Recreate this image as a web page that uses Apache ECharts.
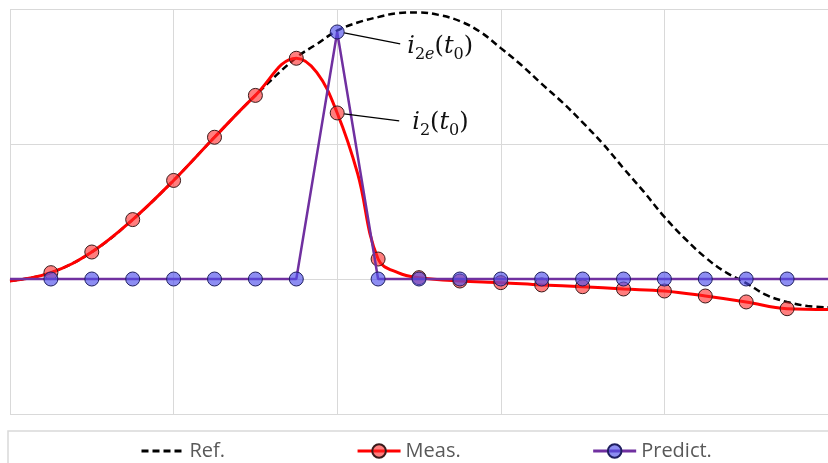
<!DOCTYPE html>
<html>
<head>
<meta charset="utf-8">
<script src="https://cdn.jsdelivr.net/npm/echarts@6/dist/echarts.min.js"></script>
<style>
html,body{margin:0;padding:0;background:#fff;}
#main{width:828px;height:463px;}
</style>
</head>
<body>
<div id="main"></div>
<script>
// x positions in sample units (4 samples per grid division); markers sit on whole samples 1..19
const refIdx   = [0,1,2,3,4,5,6,7,7.5,8,8.5,9,9.5,10,10.5,11,11.5,12,12.5,13,13.5,14,14.5,15,15.5,16,16.5,17,17.5,18,18.5,19,19.5,20];
const refVals  = [-0.015,0.047,0.20,0.44,0.73,1.05,1.36,1.64,1.74,1.84,1.90,1.94,1.97,1.975,1.955,1.91,1.83,1.71,1.585,1.445,1.31,1.16,1.0,0.82,0.645,0.46,0.30,0.16,0.05,-0.03,-0.12,-0.17,-0.20,-0.21];
const measIdx  = [0,1,2,3,4,5,6,7,7.5,8,8.5,9,9.5,10,11,12,13,14,15,16,17,18,19,20];
const measVals = [-0.015,0.047,0.20,0.44,0.73,1.05,1.36,1.635,1.53,1.23,0.78,0.148,0.045,0.01,-0.015,-0.027,-0.044,-0.057,-0.074,-0.089,-0.126,-0.17,-0.22,-0.225];
const predIdx  = [0,1,2,3,4,5,6,7,8,9,10,11,12,13,14,15,16,17,18,19,20];
const predVals = [0,0,0,0,0,0,0,0,1.83,0,0,0,0,0,0,0,0,0,0,0,0];
const seriesNames = ['Ref.','Meas.','Predict.'];
const peakSample = 8;

const chart = echarts.init(document.getElementById('main'), null, {renderer:'canvas'});

function pts(idx, vals) {
  return idx.map((k, i) => {
    const item = { value: [k, vals[i]] };
    if (!(Number.isInteger(k) && k > 0 && k < 20)) item.symbol = 'none';
    return item;
  });
}

const option = {
  animation: false,
  backgroundColor: '#fff',
  grid: { left: 10, top: 9, width: 828, bottom: 49 },
  xAxis: {
    type: 'value', min: 0, max: 20, interval: 4,
    axisLine: {show:false}, axisTick:{show:false}, axisLabel:{show:false},
    splitLine: { show: true, lineStyle: { color: '#d9d9d9', width: 1 } }
  },
  yAxis: {
    type: 'value', min: -1, max: 2, interval: 1,
    axisLine: {show:false}, axisTick:{show:false}, axisLabel:{show:false},
    splitLine: { show: true, lineStyle: { color: '#d9d9d9', width: 1 } }
  },
  legend: {
    left: 135, top: 436,
    itemWidth: 43, itemHeight: 17, itemGap: 131,
    lineStyle: { width: 3 },
    textStyle: { fontFamily: 'Open Sans', fontSize: 20, color: '#595959' },
    data: [
      { name: seriesNames[0], itemStyle: { color: 'rgba(0,0,0,0)', borderColor: 'rgba(0,0,0,0)', borderWidth: 0 } },
      seriesNames[1],
      seriesNames[2]
    ]
  },
  series: [
    {
      name: seriesNames[0], type: 'line', smooth: 0.4, symbol: 'none',
      data: refIdx.map((k, i) => [k, refVals[i]]),
      lineStyle: { color: '#000', width: 2.5, type: [7, 4] },
      itemStyle: { color: '#000' },
      z: 2
    },
    {
      name: seriesNames[1], type: 'line', smooth: 0.4, symbol: 'circle', symbolSize: 14,
      data: pts(measIdx, measVals),
      lineStyle: { color: '#ff0000', width: 3 },
      itemStyle: { color: 'rgba(255,40,40,0.6)', borderColor: '#3a1a1a', borderWidth: 1 },
      z: 3
    },
    {
      name: seriesNames[2], type: 'line', smooth: false, symbol: 'circle', symbolSize: 14,
      data: pts(predIdx, predVals),
      lineStyle: { color: '#7030a0', width: 2.5 },
      itemStyle: { color: 'rgba(80,80,235,0.65)', borderColor: '#1f1f60', borderWidth: 1 },
      z: 4
    }
  ]
};
chart.setOption(option);

const p1 = chart.convertToPixel({gridIndex:0}, [peakSample, predVals[predIdx.indexOf(peakSample)]]);
const p2 = chart.convertToPixel({gridIndex:0}, [peakSample, measVals[measIdx.indexOf(peakSample)]]);

const rich = {
  it:  { fontFamily: 'DejaVu Serif', fontStyle: 'italic', fontSize: 24, lineHeight: 32, fill: '#111' },
  p:   { fontFamily: 'DejaVu Serif', fontSize: 24, lineHeight: 32, fill: '#111' },
  sub: { fontFamily: 'DejaVu Serif', fontSize: 16, lineHeight: 16, verticalAlign: 'bottom', fill: '#111' },
  subit: { fontFamily: 'DejaVu Serif', fontStyle: 'italic', fontSize: 16, lineHeight: 16, verticalAlign: 'bottom', fill: '#111' }
};

chart.setOption({
  graphic: [
    { type: 'line', z: 100, shape: { x1: p1[0] + 7, y1: p1[1] + 1, x2: p1[0] + 63, y2: p1[1] + 12 }, style: { stroke: '#000', lineWidth: 1.3 } },
    { type: 'text', z: 100, x: p1[0] + 70, y: p1[1] + 15,
      style: { text: '{it|i}{sub|2}{subit|e}{p|(}{it|t}{sub|0}{p|)}', rich: rich, verticalAlign: 'middle', align: 'left' } },
    { type: 'line', z: 100, shape: { x1: p2[0] + 7, y1: p2[1] + 1, x2: p2[0] + 62, y2: p2[1] + 8 }, style: { stroke: '#000', lineWidth: 1.3 } },
    { type: 'text', z: 100, x: p2[0] + 75, y: p2[1] + 10,
      style: { text: '{it|i}{sub|2}{p|(}{it|t}{sub|0}{p|)}', rich: rich, verticalAlign: 'middle', align: 'left' } },
    { type: 'rect', z: 0, shape: { x: 8, y: 431, width: 840, height: 60 }, style: { fill: 'none', stroke: '#d9d9d9', lineWidth: 1.5 } }
  ]
});
</script>
</body>
</html>
